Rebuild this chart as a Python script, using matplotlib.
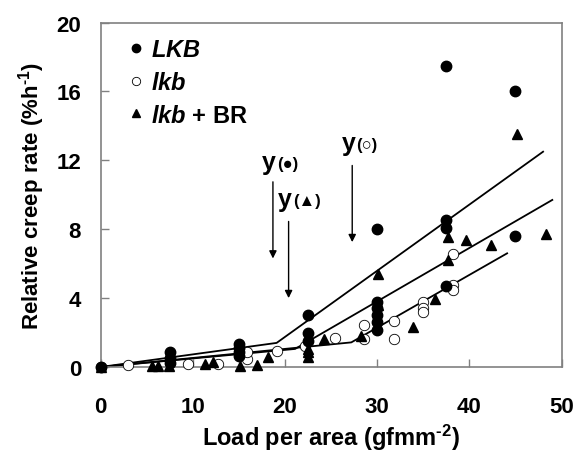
import numpy as np
import matplotlib
matplotlib.use('Agg')
import matplotlib.pyplot as plt
from matplotlib.lines import Line2D

plt.rcParams['font.family'] = ['Liberation Sans', 'DejaVu Sans']
plt.rcParams['font.weight'] = 'bold'
plt.rcParams['axes.labelweight'] = 'bold'
plt.rcParams['mathtext.fontset'] = 'custom'
plt.rcParams['mathtext.rm'] = 'Liberation Sans:bold'
plt.rcParams['mathtext.bf'] = 'Liberation Sans:bold'
plt.rcParams['mathtext.it'] = 'Liberation Sans:bold:italic'

# LKB (filled circles)
lkb_wt_x = [0, 7.5, 7.5, 7.5, 15, 15, 15, 15, 22.5, 22.5, 22.5, 30, 30, 30, 30, 30, 30,
            37.5, 37.5, 37.5, 37.5, 45, 45]
lkb_wt_y = [0, 0.85, 0.5, 0.25, 1.35, 1.1, 0.85, 0.65, 3.0, 2.0, 1.5, 8.0, 3.75, 3.4, 3.0, 2.6, 2.15,
            17.5, 8.55, 8.05, 4.7, 16.05, 7.6]

# lkb (open circles)
lkb_x = [0, 3, 9.5, 12.7, 15.9, 15.9, 19.1, 22.2, 25.4, 28.6, 28.6, 31.8, 31.8,
         35.0, 35.0, 35.0, 38.2, 38.2, 38.2]
lkb_y = [0, 0.13, 0.17, 0.2, 0.45, 0.85, 0.95, 1.2, 1.7, 2.45, 1.6, 2.7, 1.65,
         3.8, 3.45, 3.2, 6.55, 4.75, 4.45]

# lkb + BR (triangles)
br_x = [0, 5.6, 6.2, 7.4, 11.3, 12.2, 15.1, 17.0, 18.2, 22.5, 22.5, 22.5, 24.2, 28.3,
        30.1, 30.1, 33.9, 36.3, 37.7, 37.7, 39.6, 42.3, 45.2, 48.3]
br_y = [0, 0.05, 0.05, 0.05, 0.17, 0.27, 0.05, 0.12, 0.56, 1.05, 0.85, 0.6, 1.6, 1.8,
        5.4, 3.6, 2.3, 3.95, 7.55, 6.2, 7.4, 7.1, 13.5, 7.75]

# broken-line fits
fit_wt_x, fit_wt_y = [0, 19.1, 48.0], [0, 1.4, 12.5]
fit_br_x, fit_br_y = [0, 21.1, 49.0], [0, 1.05, 9.7]
fit_lkb_x, fit_lkb_y = [0, 27.2, 44.1], [0, 1.43, 6.6]

# yield points: (x, arrow top, arrow tip, label y, symbol)
yields = [(18.7, 10.75, 6.3, 11.9, '●'),
          (20.4, 8.45, 4.0, 9.75, '▲'),
          (27.3, 11.7, 7.25, 13.0, '○')]

fig = plt.figure(figsize=(5.79, 4.52), dpi=100)
ax = fig.add_axes([0.1736, 0.1858, 0.7962, 0.7622])

for fx, fy in [(fit_wt_x, fit_wt_y), (fit_br_x, fit_br_y), (fit_lkb_x, fit_lkb_y)]:
    ax.plot(fx, fy, color='black', lw=1.3, zorder=2)

ax.plot(lkb_x, lkb_y, 'o', ms=7.5, mfc='white', mec='black', mew=0.6, clip_on=False, zorder=3)
ax.plot(br_x, br_y, '^', ms=7.5, color='black', clip_on=False, zorder=4)
ax.plot(lkb_wt_x, lkb_wt_y, 'o', ms=7.5, color='black', clip_on=False, zorder=5)

for x, top, tip, ty, sym in yields:
    ax.annotate('', xy=(x, tip), xytext=(x, top),
                arrowprops=dict(arrowstyle='-|>', color='black', lw=1, mutation_scale=11,
                                shrinkA=0, shrinkB=0))
    ax.text(x + 0.35, ty, 'y', fontsize=18, fontweight='bold', ha='right', va='center')
    ax.text(x + 0.45, ty - 0.1, '(' + sym + ')', fontsize=12, fontweight='bold',
            ha='left', va='center')

handles = [Line2D([], [], marker='o', ls='none', color='black', ms=6),
           Line2D([], [], marker='o', ls='none', mfc='white', mec='black', mew=0.6, ms=6),
           Line2D([], [], marker='^', ls='none', color='black', ms=6)]
labels = [r'$\mathit{LKB}$', r'$\mathit{lkb}$', r'$\mathit{lkb}$ + BR']
ax.legend(handles, labels, loc='upper left', bbox_to_anchor=(0.01, 1.0), frameon=False,
          prop={'size': 17, 'weight': 'bold'}, handletextpad=0.0, handlelength=1.3,
          labelspacing=0.42, borderaxespad=0.25)

ax.set_xlim(0, 50)
ax.set_ylim(0, 20)
ax.set_xticks(np.arange(0, 51, 10))
ax.set_yticks(np.arange(0, 21, 4))
for s in ax.spines.values():
    s.set_color('#808080')
    s.set_linewidth(1.2)
ax.tick_params(direction='in', length=6, width=1, color='#808080', labelsize=16)
ax.tick_params(axis='x', pad=21)
ax.tick_params(axis='y', pad=14)
for lab in ax.get_xticklabels() + ax.get_yticklabels():
    lab.set_fontweight('bold')

ax.set_xlabel(r'Load per area (gfmm$^{\text{-}2}$)', fontsize=17, fontweight='bold', labelpad=3)
ax.set_ylabel(r'Relative creep rate (%h$^{\text{-}1}$)', fontsize=16, fontweight='bold', labelpad=7)

fig.savefig('out.png', dpi=100)
